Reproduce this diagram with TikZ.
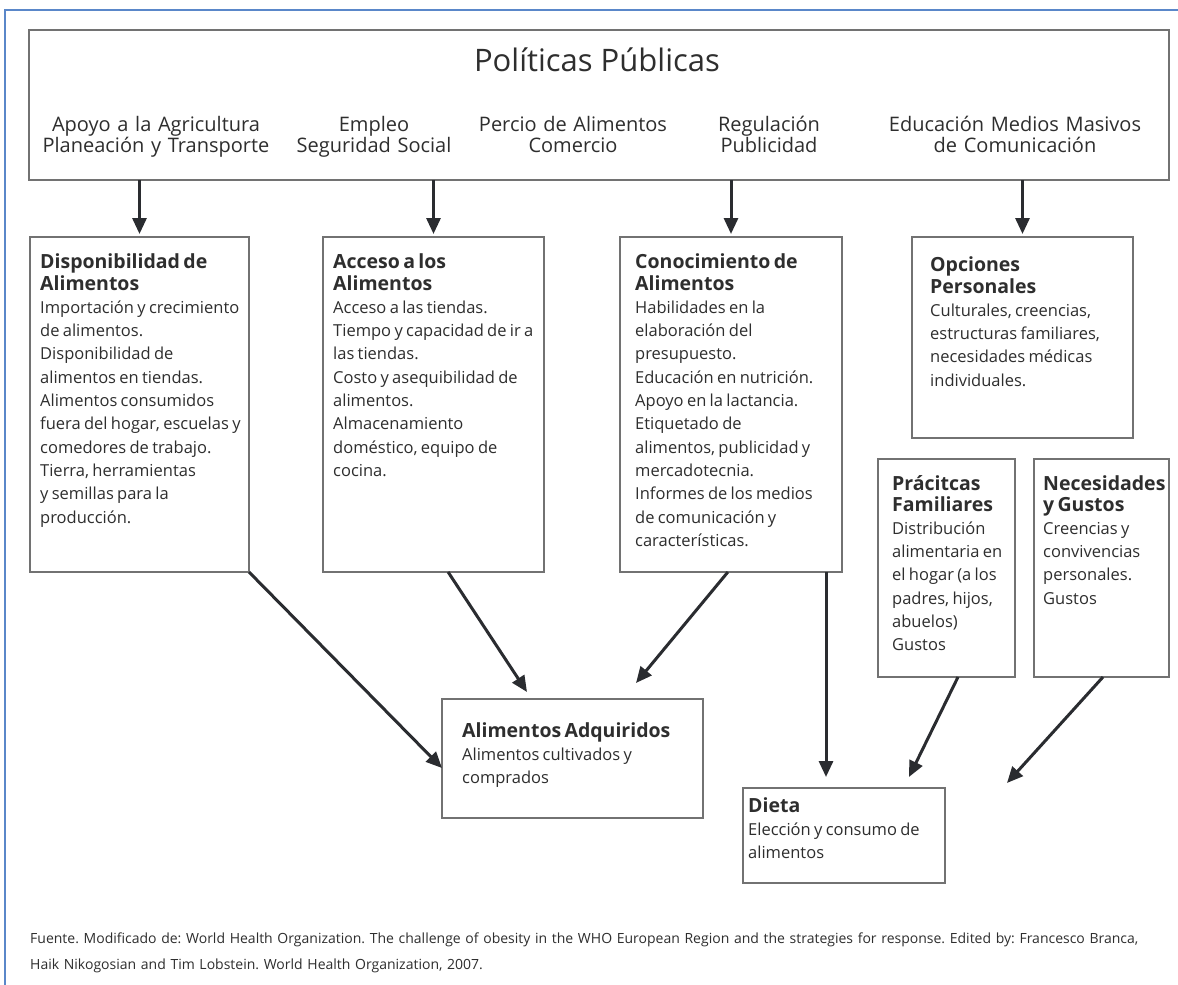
\documentclass[tikz,border=0pt]{standalone}
\usepackage{fontspec}
\setmainfont{Open Sans}
\usetikzlibrary{arrows.meta,calc}
\definecolor{frameblue}{HTML}{5A87C9}
\definecolor{boxgray}{HTML}{727272}
\definecolor{inkc}{HTML}{2E2E2E}
\definecolor{arrc}{HTML}{2A2C30}
\newcommand\myhd{\fontsize{19.5pt}{22pt}\selectfont\bfseries}
\newcommand\mybd{\fontsize{16.5pt}{23.3pt}\selectfont}
\frenchspacing
\begin{document}
\begin{tikzpicture}[x=1pt,y=-1pt,
  bx/.style={draw=boxgray, line width=2.2pt, inner sep=0pt, outer sep=0pt, anchor=north west, fill=white},
  txt/.style={anchor=base west, inner sep=0pt, text width=320pt, align=left, text=inkc},
  toplab/.style={anchor=base, inner sep=0pt, text width=320pt, align=center, text=inkc, font=\fontsize{20pt}{21.5pt}\selectfont},
  arr/.style={draw=arrc, line width=3pt, -{Triangle[length=16pt,width=14pt]}}]
\useasboundingbox (0,0) rectangle (1178,985);
\fill[white] (0,0) rectangle (1178,985);
% outer blue frame
\draw[frameblue, line width=2pt] (5,985) -- (5,10) -- (1178,10);

% boxes
\node[bx, minimum width=1140pt, minimum height=150pt] (pol) at (29,30) {};
\node[bx, minimum width=219pt, minimum height=335pt] (disp) at (30,237) {};
\node[bx, minimum width=221pt, minimum height=335pt] (acc) at (323,237) {};
\node[bx, minimum width=222pt, minimum height=335pt] (con) at (620,237) {};
\node[bx, minimum width=221pt, minimum height=201pt] (opc) at (912,237) {};
\node[bx, minimum width=137pt, minimum height=218pt] (prac) at (878,459) {};
\node[bx, minimum width=135pt, minimum height=218pt] (nec) at (1034,459) {};
\node[bx, minimum width=261pt, minimum height=119pt] (alim) at (442,699) {};
\node[bx, minimum width=202pt, minimum height=95pt] (dieta) at (743,788) {};

% top box texts
\node[anchor=base, inner sep=0pt, text=inkc, font=\fontsize{31pt}{36pt}\selectfont] (tit) at (597,71) {Políticas Públicas};
\node[toplab] (t1) at (156,131) {Apoyo a la Agricultura\\Planeación y Transporte\par};
\node[toplab] (t2) at (374,131) {Empleo\\Seguridad Social\par};
\node[toplab] (t3) at (573,131) {Percio de Alimentos\\Comercio\par};
\node[toplab] (t4) at (769,131) {Regulación\\Publicidad\par};
\node[toplab] (t5) at (1015,131) {Educación Medios Masivos\\de Comunicación\par};

% box texts
\node[txt] (disptx) at (40,268) {{\myhd Disponibilidad de\\Alimentos\par}\mybd Importación y crecimiento\\de alimentos.\\Disponibilidad de\\alimentos en tiendas.\\Alimentos consumidos\\fuera del hogar, escuelas y\\comedores de trabajo.\\Tierra, herramientas\\y semillas para la\\producción.\par};
\node[txt] (acctx) at (333,268) {{\myhd Acceso a los\\Alimentos\par}\mybd Acceso a las tiendas.\\Tiempo y capacidad de ir a\\las tiendas.\\Costo y asequibilidad de\\alimentos.\\Almacenamiento\\doméstico, equipo de\\cocina.\par};
\node[txt] (contx) at (635,268) {{\myhd Conocimiento de\\Alimentos\par}\mybd Habilidades en la\\elaboración del\\presupuesto.\\Educación en nutrición.\\Apoyo en la lactancia.\\Etiquetado de\\alimentos, publicidad y\\mercadotecnia.\\Informes de los medios\\de comunicación y\\características.\par};
\node[txt] (opctx) at (930,271) {{\myhd Opciones\\Personales\par}\mybd Culturales, creencias,\\estructuras familiares,\\necesidades médicas\\individuales.\par};
\node[txt] (practx) at (892,490) {{\fontsize{19.5pt}{21pt}\selectfont\bfseries Prácitcas\\Familiares\par}\mybd Distribución\\alimentaria en\\el hogar (a los\\padres, hijos,\\abuelos)\\Gustos\par};
\node[txt] (nectx) at (1043,490) {{\fontsize{19.5pt}{21pt}\selectfont\bfseries Necesidades\\y Gustos\par}\mybd Creencias y\\convivencias\\personales.\\Gustos\par};
\node[txt] (alimtx) at (462,737) {{\myhd Alimentos Adquiridos\par}\mybd Alimentos cultivados y\\comprados\par};
\node[txt] (dietatx) at (748,812) {{\myhd Dieta\par}\mybd Elección y consumo de\\alimentos\par};

% arrows
\draw[arr] (pol.south -| disp.north) -- ([yshift=3pt]disp.north);
\draw[arr] (pol.south -| acc.north) -- ([yshift=3pt]acc.north);
\draw[arr] (pol.south -| con.north) -- ([yshift=3pt]con.north);
\draw[arr] (pol.south -| opc.north) -- ([yshift=3pt]opc.north);

\coordinate (e5) at (442,768);
\coordinate (e6) at (527,692);
\coordinate (e7) at (636,683);
\coordinate (e8) at (826,777);
\coordinate (e9) at (909,777);
\coordinate (e10) at (1007,783);
\draw[arr] (disp.south east) -- (e5);
\draw[arr] ($(acc.south west)!0.566!(acc.south east)$) -- (e6);
\draw[arr] ($(con.south west)!0.486!(con.south east)$) -- (e7);
\draw[arr] (con.south -| e8) -- (e8);
\draw[arr] ($(prac.south west)!0.584!(prac.south east)$) -- (e9);
\draw[arr] ($(nec.south west)!0.511!(nec.south east)$) -- (e10);

% source note
\node[anchor=base west, inner sep=0pt, text width=1200pt, align=left, text=inkc, font=\fontsize{14pt}{26pt}\selectfont] (src) at (30,943) {Fuente. Modificado de: World Health Organization. The challenge of obesity in the WHO European Region and the strategies for response. Edited by: Francesco Branca,\\Haik Nikogosian and Tim Lobstein. World Health Organization, 2007.\par};
\end{tikzpicture}
\end{document}
